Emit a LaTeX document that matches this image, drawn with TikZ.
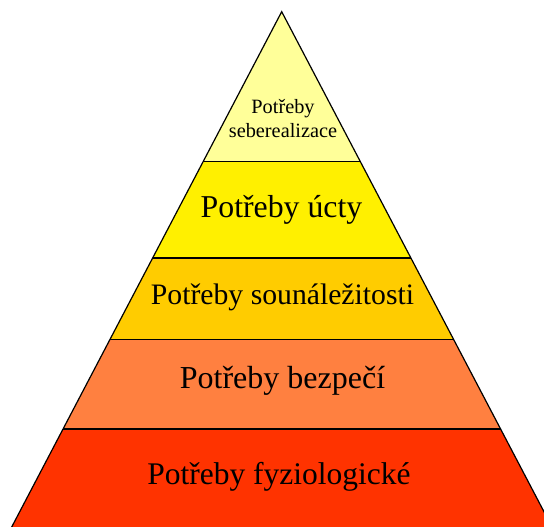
\documentclass[tikz,border=0pt]{standalone}
\usepackage{fontspec}
\setmainfont{Liberation Serif}
\newfontfamily\tnr{Liberation Serif}
\usetikzlibrary{calc}
\definecolor{cTop}{RGB}{255,255,153}
\definecolor{cEst}{RGB}{255,240,0}
\definecolor{cBel}{RGB}{255,204,0}
\definecolor{cSaf}{RGB}{255,128,64}
\definecolor{cPhy}{RGB}{255,51,0}
\tikzset{
  lbl/.style={inner sep=0pt, align=center, text=black},
  sep/.style={line width=1.3pt, black},
  edge/.style={line width=1.2pt, black, line join=miter}
}
\begin{document}
\begin{tikzpicture}[x=1pt,y=-1pt]
\useasboundingbox (0,0) rectangle (544,527);
\clip (0,0) rectangle (544,527);
\coordinate (A) at (281.7,11.7);
\coordinate (BL) at (11.7,527);
\coordinate (BR) at (552,527);
\coordinate (L1) at ($(A)!0.2907!(BL)$);
\coordinate (R1) at ($(A)!0.2907!(BR)$);
\coordinate (L2) at ($(A)!0.478!(BL)$);
\coordinate (R2) at ($(A)!0.478!(BR)$);
\coordinate (L3) at ($(A)!0.636!(BL)$);
\coordinate (R3) at ($(A)!0.636!(BR)$);
\coordinate (L4) at ($(A)!0.810!(BL)$);
\coordinate (R4) at ($(A)!0.810!(BR)$);
\fill[cTop] (A) -- (L1) -- (R1) -- cycle;
\fill[cEst] (L1) -- (L2) -- (R2) -- (R1) -- cycle;
\fill[cBel] (L2) -- (L3) -- (R3) -- (R2) -- cycle;
\fill[cSaf] (L3) -- (L4) -- (R4) -- (R3) -- cycle;
\fill[cPhy] (L4) -- (BL) -- (BR) -- (R4) -- cycle;
\draw[sep] (L1) -- (R1);
\draw[sep] (L2) -- (R2);
\draw[sep] (L3) -- (R3);
\draw[sep] (L4) -- (R4);
\draw[edge] (BL) -- (A) -- (BR);
\node[lbl, font=\tnr\fontsize{20.3}{24}\selectfont] (n1) at (283,119) {Potřeby\\seberealizace};
\node[lbl, font=\tnr\fontsize{31.8}{36}\selectfont] (n2) at (281.5,210) {Potřeby úcty};
\node[lbl, font=\tnr\fontsize{29.7}{34}\selectfont] (n3) at (282.5,297) {Potřeby sounáležitosti};
\node[lbl, font=\tnr\fontsize{32}{36}\selectfont] (n4) at (282.5,381) {Potřeby bezpečí};
\node[lbl, font=\tnr\fontsize{31.5}{36}\selectfont] (n5) at (279,477) {Potřeby fyziologické};
\end{tikzpicture}
\end{document}
